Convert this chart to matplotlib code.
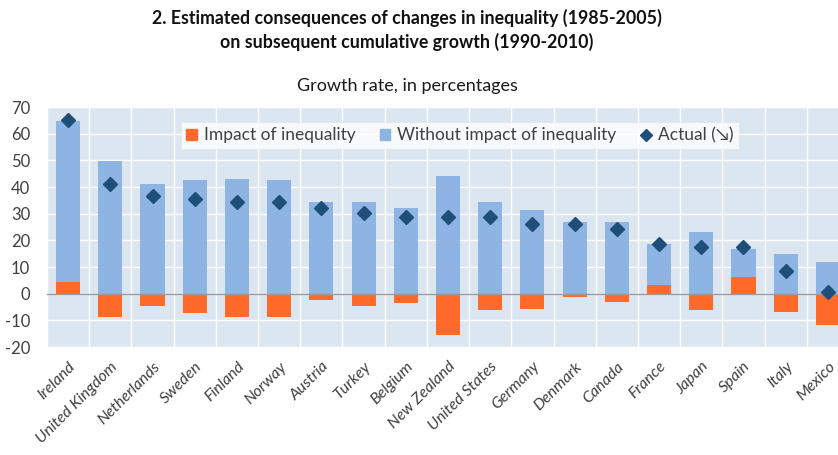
import matplotlib
matplotlib.use("Agg")
import matplotlib.pyplot as plt
import matplotlib.transforms as mtransforms
import numpy as np
from matplotlib.lines import Line2D
from matplotlib.patches import Patch

countries = ["Ireland", "United Kingdom", "Netherlands", "Sweden", "Finland", "Norway",
             "Austria", "Turkey", "Belgium", "New Zealand", "United States", "Germany",
             "Denmark", "Canada", "France", "Japan", "Spain", "Italy", "Mexico"]
impact = [4.3, -8.9, -4.8, -7.3, -8.9, -8.6, -2.5, -4.8, -3.5, -15.5, -6.3, -5.8,
          -1.3, -3.3, 3.4, -6.0, 6.3, -6.9, -11.7]
without_impact = [60.6, 49.7, 41.1, 42.8, 43.1, 42.8, 34.3, 34.5, 32.1, 44.1, 34.3, 31.4,
                  27.0, 27.0, 15.2, 23.2, 10.6, 14.7, 11.8]
actual = [65.0, 41.3, 36.8, 35.5, 34.5, 34.3, 32.0, 30.2, 28.6, 28.6, 28.6, 26.1,
          26.1, 24.4, 18.5, 17.6, 17.5, 8.4, 0.6]
yticks = [-20, -10, 0, 10, 20, 30, 40, 50, 60, 70]

ORANGE = "#ff6a2b"
BLUE = "#8db4e2"
BG = "#dce6f1"
NAVY = "#1f4e79"
TXT = "#404040"

plt.rcParams['font.family'] = ['Lato', 'DejaVu Sans']

fig = plt.figure(figsize=(8.38, 4.55), dpi=100)
ax = fig.add_axes([47/838, 1-347/455, (849-47)/838, (347-107)/455])
ax.set_facecolor(BG)

x = np.arange(len(countries))
imp = np.array(impact)
wo = np.array(without_impact)
bottom = np.where(imp > 0, imp, 0)
w = 0.57
ax.bar(x, wo, width=w, bottom=bottom, color=BLUE, zorder=3)
ax.bar(x, imp, width=w, color=ORANGE, zorder=3)
ax.axhline(0, color="#9a9a9a", lw=1.0, zorder=4)
ax.plot(x, actual, ls='none', marker='D', markersize=7.5, color=NAVY, zorder=5)

ax.set_xlim(-0.5, len(countries) - 0.5)
ax.set_ylim(-20, 70)
ax.set_yticks(yticks)
ax.set_yticklabels([str(v) for v in yticks], fontsize=12, color=TXT)
ax.set_xticks(x)
ax.set_xticklabels(countries, rotation=45, ha='right', va='top', rotation_mode='anchor',
                   fontsize=11.5, style='italic', color=TXT)
offset = mtransforms.ScaledTranslation(6/100, 0, fig.dpi_scale_trans)
for lab in ax.get_xticklabels():
    lab.set_transform(lab.get_transform() + offset)
ax.set_xticks(np.arange(len(countries) + 1) - 0.5, minor=True)
ax.tick_params(axis='both', which='both', length=0)
ax.tick_params(axis='x', pad=9)
ax.tick_params(axis='y', pad=12)
ax.grid(True, axis='y', which='major', color='white', lw=1.0, zorder=0)
ax.grid(True, axis='x', which='minor', color='white', lw=1.0, zorder=0)
ax.set_axisbelow(True)
for s in ax.spines.values():
    s.set_visible(False)

handles = [Patch(color=ORANGE, label="Impact of inequality"),
           Patch(color=BLUE, label="Without impact of inequality"),
           Line2D([], [], ls='none', marker='D', markersize=6, color=NAVY, label="Actual (↘)")]
leg = ax.legend(handles=handles, loc='upper left', bbox_to_anchor=((181-47)/802, (347-122)/240),
                borderaxespad=0, ncol=3, frameon=True, fancybox=False, fontsize=12.5,
                handlelength=0.6, handleheight=0.6, handletextpad=0.4, columnspacing=1.4,
                borderpad=0.3, labelcolor=TXT)
leg.get_frame().set_edgecolor('#e6e6e6')
leg.get_frame().set_facecolor('white')
leg.get_frame().set_linewidth(0.8)
leg.set_zorder(6)

fig.text(407/838, 1-18/455, "2. Estimated consequences of changes in inequality (1985-2005)",
         ha='center', va='center', fontsize=12.8, fontweight='bold', color='#111111')
fig.text(407/838, 1-42/455, "on subsequent cumulative growth (1990-2010)",
         ha='center', va='center', fontsize=12.8, fontweight='bold', color='#111111')
fig.text(407/838, 1-86/455, "Growth rate, in percentages",
         ha='center', va='center', fontsize=13, color='#1a1a1a')

fig.savefig("out.png", dpi=100)
